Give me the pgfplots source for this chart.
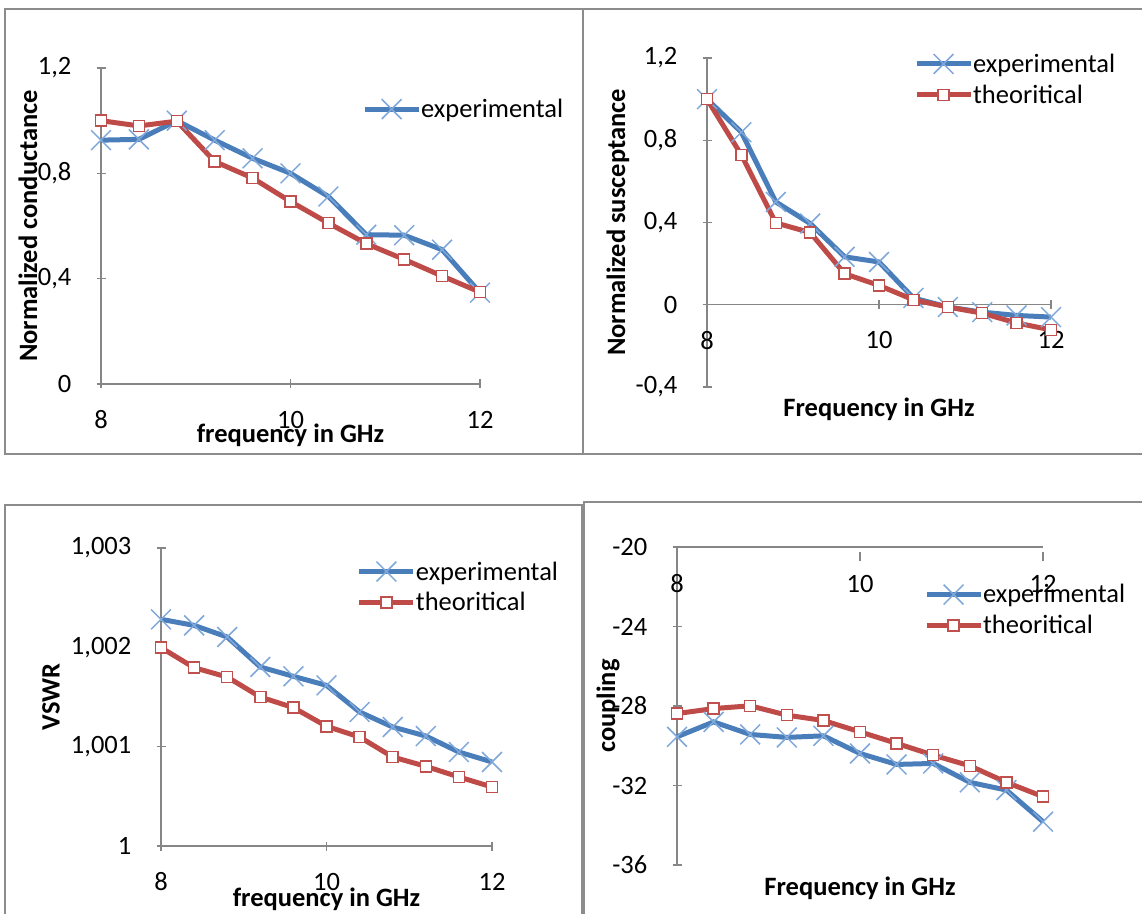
\documentclass[border=0pt]{standalone}
\usepackage{fontspec}
\setmainfont{Carlito}
\usepackage{pgfplots}
\pgfplotsset{compat=1.18}

\definecolor{exline}{HTML}{4A7EBB}
\definecolor{exmark}{HTML}{7FA8DA}
\definecolor{thline}{HTML}{BE4B48}
\definecolor{thmark}{HTML}{C0504D}
\definecolor{axgray}{HTML}{868686}
\definecolor{framegray}{HTML}{8C8C8C}

\newcommand{\fs}{\fontsize{26.5}{31}\selectfont}

\pgfplotsset{
  panel/.style={
    scale only axis, anchor=south west, clip=false,
    xmin=8, xmax=12, xtick={8,10,12},
    tick align=outside, major tick length=9pt,
    tick style={draw=axgray, line width=1.3pt},
    tick label style={font=\fs, text=black},
    /pgf/number format/assume math mode=true,
    /pgf/number format/use comma,
    yticklabel style={anchor=east, inner sep=0pt, xshift=-25pt},
    xticklabel style={anchor=center, inner sep=0pt, yshift=-31pt},
    label style={font=\bfseries\fs},
    legend style={draw=none, fill=none, inner sep=0pt, outer sep=0pt,
      anchor=west, font=\fs, row sep=11pt, nodes={inner sep=0pt},
      cells={anchor=west}},
    legend image code/.code={
      \draw[mark repeat=2, mark phase=2, ##1] plot coordinates {(0pt,0pt) (27pt,0pt) (54pt,0pt)};
    },
  },
  exp/.style={color=exline, line width=5pt, mark=x, mark size=14pt,
    mark options={draw=exmark, line width=1.5pt, solid}},
  theo/.style={color=thline, line width=5pt, mark=square*, mark size=5.5pt,
    mark options={draw=thmark, fill=white, line width=1.5pt, solid}},
}

\begin{document}
\begin{tikzpicture}
\useasboundingbox (0pt,0pt) rectangle (1142pt,913pt);
\fill[white] (0pt,0pt) rectangle (1142pt,913pt);
\draw[framegray, line width=2.2pt] (5pt,904pt) rectangle (583pt,459pt);
\draw[framegray, line width=2.2pt] (583pt,904pt) rectangle (1160pt,459pt);
\draw[framegray, line width=2.2pt] (5pt,408pt) rectangle (582pt,-20pt);
\draw[framegray, line width=2.2pt] (584pt,411pt) rectangle (1160pt,-20pt);

% conductance
\begin{axis}[panel, at={(101pt,529pt)}, width=379pt, height=316pt,
  axis lines=left, axis line style={-, draw=axgray, line width=1.3pt},
  ymin=0, ymax=1.2, ytick={0,0.4,0.8,1.2},
  xlabel={frequency in GHz}, ylabel={Normalized conductance},
  xlabel style={at={([yshift=-51pt]axis description cs:0.5,0)}, anchor=center, font=\bfseries\fs},
  ylabel style={at={([xshift=-73pt]axis description cs:0,0.5)}, anchor=center, font=\bfseries\fs},
  legend style={at={(axis description cs:0.689,0.870)}}]
\addplot[exp] coordinates {(8,0.926) (8.4,0.929) (8.8,1.0) (9.2,0.926) (9.6,0.857) (10,0.80) (10.4,0.712) (10.8,0.567) (11.2,0.565) (11.6,0.51) (12,0.347)};
\addlegendentry{experimental}
\addplot[theo, forget plot] coordinates {(8,1.0) (8.4,0.98) (8.8,0.998) (9.2,0.845) (9.6,0.782) (10,0.693) (10.4,0.611) (10.8,0.533) (11.2,0.473) (11.6,0.41) (12,0.349)};
\end{axis}

% susceptance
\begin{axis}[panel, at={(707pt,526pt)}, width=344pt, height=329pt,
  axis x line=middle, axis y line=left, hide obscured x ticks=false,
  axis line style={-, draw=axgray, line width=1.3pt},
  ymin=-0.4, ymax=1.2, ytick={-0.4,0,0.4,0.8,1.2},
  xlabel={Frequency in GHz}, ylabel={Normalized susceptance},
  xlabel style={at={([yshift=-22pt]axis description cs:0.5,0)}, anchor=center, font=\bfseries\fs},
  ylabel style={at={([xshift=-89pt]axis description cs:0,0.5)}, anchor=center, font=\bfseries\fs},
  legend style={at={(axis description cs:0.602,0.935)}}]
\addplot[exp] coordinates {(8,1.0) (8.4,0.839) (8.8,0.50) (9.2,0.395) (9.6,0.233) (10,0.208) (10.4,0.033) (10.8,-0.011) (11.2,-0.036) (11.6,-0.052) (12,-0.06)};
\addlegendentry{experimental}
\addplot[theo] coordinates {(8,1.0) (8.4,0.728) (8.8,0.398) (9.2,0.351) (9.6,0.151) (10,0.094) (10.4,0.024) (10.8,-0.011) (11.2,-0.041) (11.6,-0.089) (12,-0.122)};
\addlegendentry{theoritical}
\end{axis}

% VSWR, values stored as (VSWR - 1) in units of 0.001
\begin{axis}[panel, at={(161pt,67pt)}, width=331pt, height=298pt,
  axis lines=left, axis line style={-, draw=axgray, line width=1.3pt},
  ymin=0, ymax=3, ytick={0,1,2,3}, yticklabels={1,{1,001},{1,002},{1,003}},
  xlabel={frequency in GHz}, ylabel={VSWR},
  xlabel style={at={([yshift=-53pt]axis description cs:0.5,0)}, anchor=center, font=\bfseries\fs},
  ylabel style={at={([xshift=-110pt]axis description cs:0,0.5)}, anchor=center, font=\bfseries\fs},
  legend style={at={(axis description cs:0.592,0.869)}}]
\addplot[exp] coordinates {(8,2.282) (8.4,2.221) (8.8,2.104) (9.2,1.802) (9.6,1.708) (10,1.617) (10.4,1.349) (10.8,1.198) (11.2,1.107) (11.6,0.946) (12,0.846)};
\addlegendentry{experimental}
\addplot[theo] coordinates {(8,1.997) (8.4,1.795) (8.8,1.701) (9.2,1.500) (9.6,1.393) (10,1.205) (10.4,1.097) (10.8,0.896) (11.2,0.802) (11.6,0.695) (12,0.594)};
\addlegendentry{theoritical}
\end{axis}

% coupling
\begin{axis}[panel, at={(677pt,48pt)}, width=366pt, height=318pt,
  axis x line=top, axis y line=left,
  axis line style={-, draw=axgray, line width=1.3pt},
  xtick style={yshift=-9pt},
  ymin=-36, ymax=-20, ytick={-36,-32,-28,-24,-20},
  xticklabel style={anchor=center, yshift=-10pt},
  xlabel={Frequency in GHz}, ylabel={coupling},
  xlabel style={at={([yshift=-23pt]axis description cs:0.5,0)}, anchor=center, font=\bfseries\fs},
  ylabel style={at={([xshift=-69pt]axis description cs:0,0.5)}, anchor=center, font=\bfseries\fs},
  legend style={at={(axis description cs:0.675,0.802)}}]
\addplot[exp] coordinates {(8,-29.55) (8.4,-28.80) (8.8,-29.43) (9.2,-29.58) (9.6,-29.50) (10,-30.39) (10.4,-30.94) (10.8,-30.89) (11.2,-31.84) (11.6,-32.23) (12,-33.82)};
\addlegendentry{experimental}
\addplot[theo] coordinates {(8,-28.38) (8.4,-28.13) (8.8,-27.99) (9.2,-28.46) (9.6,-28.73) (10,-29.30) (10.4,-29.88) (10.8,-30.47) (11.2,-31.01) (11.6,-31.84) (12,-32.56)};
\addlegendentry{theoritical}
\end{axis}
\end{tikzpicture}
\end{document}
